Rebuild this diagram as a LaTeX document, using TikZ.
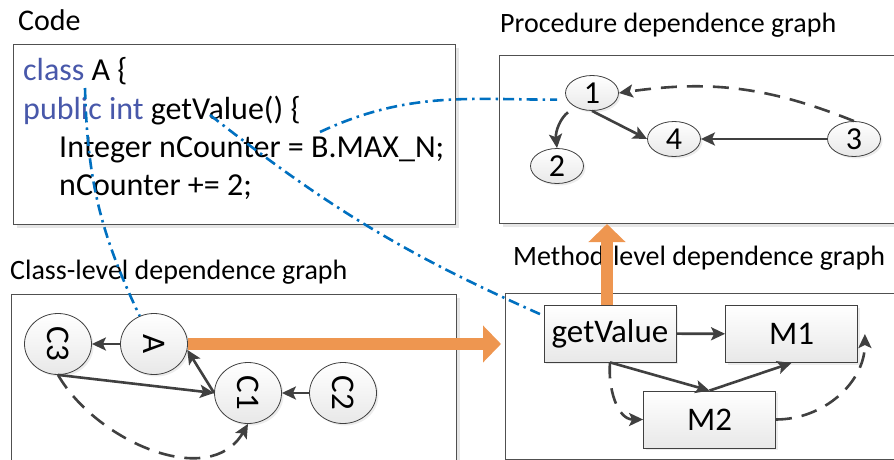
\documentclass[tikz,border=0pt]{standalone}
\usepackage{fontspec}
\setmainfont{Carlito}
\usetikzlibrary{arrows.meta,shapes.geometric,shadows}
\definecolor{edgegray}{RGB}{64,64,64}
\definecolor{panelgray}{RGB}{80,80,80}
\definecolor{linkblue}{RGB}{0,112,192}
\definecolor{kwblue}{RGB}{72,88,170}
\definecolor{flow}{RGB}{238,150,80}
\tikzset{
  panel/.style={draw=panelgray, line width=1.3pt, fill=white, anchor=north west, inner sep=0pt,
    drop shadow={shadow xshift=3pt, shadow yshift=-3pt, opacity=0.2}},
  title/.style={anchor=base west, inner sep=0pt, font=\fontsize{28}{34}\selectfont},
  codeline/.style={anchor=base west, inner sep=0pt, font=\fontsize{32}{38}\selectfont},
  gnode/.style={draw=edgegray, line width=0.8pt, top color=white, bottom color=gray!18, inner sep=0pt,
    drop shadow={shadow xshift=2pt, shadow yshift=-2pt, opacity=0.15}, font=\fontsize{33}{38}\selectfont},
  pnode/.style={gnode, ellipse, minimum width=53pt, minimum height=35pt, font=\fontsize{32}{38}\selectfont},
  cnode/.style={gnode, ellipse, rotate=-90, minimum width=61pt, minimum height=67pt},
  mnode/.style={gnode, rectangle, minimum width=132pt, minimum height=57pt},
  edge/.style={draw=edgegray, line width=2.6pt, -{Stealth[length=14pt, width=13pt, inset=3pt]}},
  dashedge/.style={edge, dash pattern=on 16pt off 10pt},
  link/.style={draw=linkblue, line width=2.6pt, dash pattern=on 11pt off 5pt on 2.5pt off 5pt},
  flowarrow/.style={draw=flow, line width=12pt, -{Triangle[length=18pt, width=36pt]}}
}
\begin{document}
\begin{tikzpicture}[x=1pt, y=-1pt]
  \useasboundingbox (0,0) rectangle (894,460);
  \node[panel, minimum width=442pt, minimum height=180pt] (codebox) at (13,44) {};
  \node[panel, minimum width=400pt, minimum height=168pt] (pdgbox) at (499,55) {};
  \node[panel, minimum width=445pt, minimum height=172pt] (cdgbox) at (11,294) {};
  \node[panel, minimum width=395pt, minimum height=166pt] (mdgbox) at (505,293) {};

  \node[title, font=\fontsize{30}{36}\selectfont] (codetitle) at (18,31) {Code};
  \node[title] (pdgtitle) at (500,33) {Procedure dependence graph};
  \node[title] (cdgtitle) at (10,279) {Class-level dependence graph};
  \node[title] (mdgtitle) at (513,265) {Method-level dependence graph};

  \node[codeline] (line1) at (23,81) {\textcolor{kwblue}{class} A \{};
  \node[codeline] (line2) at (23,119) {\textcolor{kwblue}{public int} getValue() \{};
  \node[codeline] (line3) at (59,157) {Integer nCounter = B.MAX\_N;};
  \node[codeline] (line4) at (59,195) {nCounter += 2;};

  \node[pnode] (n1) at (592,93) {1};
  \node[pnode] (n2) at (557,166) {2};
  \node[pnode] (n4) at (674,139) {4};
  \node[pnode] (n3) at (854,139) {3};

  \node[cnode] (C3) at (58,344) {C3};
  \node[cnode] (A) at (154,344) {A};
  \node[cnode] (C1) at (248,393) {C1};
  \node[cnode] (C2) at (343,393) {C2};

  \node[mnode] (gv) at (610,333.5) {getValue};
  \node[mnode] (m1) at (791.5,334) {M1};
  \node[mnode] (m2) at (709.5,419.5) {M2};

  \draw[edge] (n1.south) -- (n4.west);
  \draw[edge] (n3) -- (n4);
  \draw[edge, shorten <=9pt] (n1.220) to[bend right=30] (n2.north);
  \draw[dashedge] (n3.north) to[bend right=15] (n1.east);

  \draw[edge] (A) -- (C3);
  \draw[edge] (C2) -- (C1);
  \draw[edge] (C3.east) -- (C1.south);
  \draw[edge] (C1.south) -- (A.80);
  \draw[dashedge] (C3.east) to[out=-60, in=-120] (C1.east);

  \draw[edge] (gv) -- (m1);
  \draw[edge] (gv.south) -- (m2.north);
  \draw[edge] (m2.north) -- (m1.south);
  \draw[dashedge] (gv.south) to[out=-95, in=180] (m2.west);
  \draw[dashedge] (m2.east) to[out=0, in=-90] ([xshift=7pt]m1.east);

  \coordinate (clsref) at (85,88);
  \coordinate (getref) at (210,115);
  \coordinate (maxref) at (320,132);
  \draw[link] (clsref) to[bend right=12] (A);
  \draw[link, shorten >=4pt] (getref) to[bend right=7] (gv.165);
  \draw[link, shorten >=10pt] (maxref) to[out=25, in=180] (n1.195);

  \coordinate (mdgtip) at (501,344);
  \coordinate (pdgtip) at (607,224);
  \draw[flowarrow] (A.north) -- (mdgtip);
  \draw[flowarrow] ([xshift=-3pt]gv.north) -- (pdgtip);
\end{tikzpicture}
\end{document}
